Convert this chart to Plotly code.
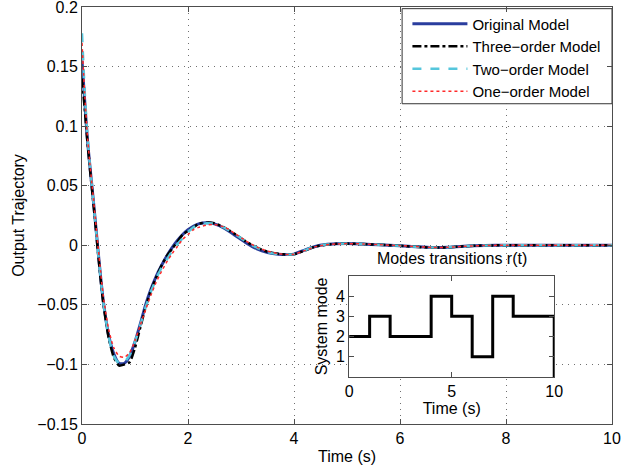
import plotly.graph_objects as go

# ---------------- data ----------------
time_s = [0, 0.05, 0.1, 0.15, 0.2, 0.25, 0.3, 0.35, 0.4, 0.5, 0.6, 0.7, 0.8, 0.9, 1.0,
          1.1, 1.2, 1.3, 1.4, 1.5, 1.6, 1.7, 1.8, 1.9, 2.0, 2.1, 2.2, 2.35, 2.5, 2.7,
          2.9, 3.1, 3.3, 3.5, 3.7, 3.9, 4.0, 4.2, 4.4, 4.6, 4.8, 5.0, 5.3, 5.6, 6.0,
          6.3, 6.6, 6.9, 7.2, 7.6, 8.0, 9.0, 10.0]

original_model = [0.155, 0.122, 0.09, 0.066, 0.044, 0.021, -0.003, -0.026, -0.046, -0.075,
                  -0.091, -0.099, -0.099, -0.093, -0.081, -0.066, -0.05, -0.037, -0.026,
                  -0.017, -0.009, -0.002, 0.004, 0.009, 0.013, 0.016, 0.018, 0.019, 0.018,
                  0.014, 0.008, 0.002, -0.003, -0.006, -0.0075, -0.0078, -0.0074, -0.004,
                  -0.001, 0.0006, 0.0012, 0.0014, 0.001, 0.0004, -0.0004, -0.0012, -0.0019,
                  -0.0017, -0.0008, -0.0002, 0.0, 0.0, 0.0]

three_order = [0.14, 0.115, 0.088, 0.064, 0.042, 0.019, -0.005, -0.028, -0.048, -0.077,
               -0.094, -0.101, -0.1, -0.098, -0.086, -0.069, -0.052, -0.038, -0.027,
               -0.017, -0.009, -0.003, 0.003, 0.009, 0.012, 0.015, 0.018, 0.019, 0.0185,
               0.0145, 0.009, 0.003, -0.002, -0.0055, -0.0072, -0.0078, -0.0076, -0.0045,
               -0.0012, 0.0005, 0.0012, 0.0014, 0.001, 0.0004, -0.0004, -0.0013, -0.002,
               -0.0017, -0.0008, -0.0002, 0.0, 0.0, 0.0]

two_order = [0.178, 0.13, 0.094, 0.067, 0.044, 0.02, -0.004, -0.027, -0.047, -0.076,
             -0.093, -0.099, -0.098, -0.092, -0.081, -0.067, -0.052, -0.039, -0.028,
             -0.019, -0.012, -0.005, 0.001, 0.006, 0.011, 0.015, 0.017, 0.0185, 0.018,
             0.0145, 0.009, 0.003, -0.002, -0.0058, -0.0075, -0.0078, -0.0076, -0.0042,
             -0.001, 0.0006, 0.0012, 0.0014, 0.001, 0.0004, -0.0004, -0.0012, -0.0019,
             -0.0017, -0.0008, -0.0002, 0.0, 0.0, 0.0]

one_order = [0.17, 0.128, 0.093, 0.068, 0.046, 0.023, 0.0, -0.022, -0.042, -0.07,
             -0.086, -0.093, -0.094, -0.09, -0.08, -0.067, -0.054, -0.042, -0.031,
             -0.022, -0.014, -0.007, -0.001, 0.005, 0.009, 0.013, 0.015, 0.017, 0.0175,
             0.015, 0.0095, 0.0035, -0.0015, -0.005, -0.007, -0.0078, -0.0076, -0.0045,
             -0.0013, 0.0004, 0.0011, 0.0014, 0.0011, 0.0005, -0.0003, -0.0011, -0.0018,
             -0.0017, -0.0009, -0.0002, 0.0, 0.0, 0.0]

mode_time = [0, 1, 2, 4, 5, 6, 7, 8, 10, 10]
system_mode = [2, 3, 2, 4, 3, 1, 4, 3, 3, 0]

x_ticks = [0, 2, 4, 6, 8, 10]
y_ticks = [-0.15, -0.1, -0.05, 0, 0.05, 0.1, 0.15, 0.2]
y_tick_labels = ["\u22120.15", "\u22120.1", "\u22120.05", "0", "0.05", "0.1", "0.15", "0.2"]
inset_x_ticks = [0, 5, 10]
inset_y_ticks = [1, 2, 3, 4]

# ---------------- layout constants ----------------
X_RANGE = [0, 10]
Y_RANGE = [-0.15, 0.2]
INSET_X_DOM = [0.504, 0.891]
INSET_Y_DOM = [0.113, 0.355]
LEG_X_DOM = [0.604, 1.0]
LEG_Y_DOM = [0.768, 0.996]


def dom_to_x(f):
    return X_RANGE[0] + f * (X_RANGE[1] - X_RANGE[0])


def dom_to_y(f):
    return Y_RANGE[0] + f * (Y_RANGE[1] - Y_RANGE[0])


# ---------------- figure ----------------
FONT = "Liberation Sans, Arial, Helvetica, sans-serif"
fig = go.Figure()

fig.add_trace(go.Scatter(x=time_s, y=original_model, name="Original Model", mode="lines",
                         line=dict(color="#2a3d9e", width=3, shape="spline", smoothing=0.6)))
fig.add_trace(go.Scatter(x=time_s, y=three_order, name="Three\u2212order Model", mode="lines",
                         line=dict(color="black", width=2.5, dash="dashdot", shape="spline", smoothing=0.6)))
fig.add_trace(go.Scatter(x=time_s, y=two_order, name="Two\u2212order Model", mode="lines",
                         line=dict(color="#55c6dc", width=2.5, dash="dash", shape="spline", smoothing=0.6)))
fig.add_trace(go.Scatter(x=time_s, y=one_order, name="One\u2212order Model", mode="lines",
                         line=dict(color="#ff2a2a", width=1.5, dash="dot", shape="spline", smoothing=0.6)))

fig.add_trace(go.Scatter(x=mode_time, y=system_mode, mode="lines", showlegend=False,
                         xaxis="x2", yaxis="y2",
                         line=dict(color="black", width=3, shape="hv")))

axis_common = dict(showline=True, linecolor="#4d4d4d", linewidth=1, mirror="allticks",
                   ticks="inside", ticklen=5, tickcolor="#4d4d4d", zeroline=False,
                   automargin=False, ticklabeloverflow="allow",
                   tickfont=dict(family=FONT, size=16, color="black"))

grid = dict(showgrid=True, gridcolor="#707070", griddash="1px,5px", gridwidth=1)

fig.update_layout(
    width=640, height=472,
    margin=dict(l=82, r=28, t=7, b=48, autoexpand=False),
    paper_bgcolor="white", plot_bgcolor="white",
    font=dict(family=FONT, size=16, color="black"),
    showlegend=True,
    legend=dict(x=0.614, xanchor="left", y=0.999, yanchor="top",
                bgcolor="rgba(0,0,0,0)", borderwidth=0,
                font=dict(family=FONT, size=15), itemwidth=55,
                tracegroupgap=0),
    xaxis=dict(domain=[0, 1], range=X_RANGE, tickvals=x_ticks,
               title=dict(text="Time (s)", standoff=4, font=dict(size=16)),
               **grid, **axis_common),
    yaxis=dict(domain=[0, 1], range=Y_RANGE, tickvals=y_ticks, ticktext=y_tick_labels,
               title=dict(text="Output Trajectory", standoff=8, font=dict(size=16)),
               **grid, **axis_common),
    xaxis2=dict(domain=INSET_X_DOM, anchor="y2", range=[0, 10], tickvals=inset_x_ticks,
                showgrid=False,
                title=dict(text="Time (s)", standoff=2, font=dict(size=16)),
                **axis_common),
    yaxis2=dict(domain=INSET_Y_DOM, anchor="x2", range=[0, 5], tickvals=inset_y_ticks,
                showgrid=False,
                title=dict(text="System mode", standoff=4, font=dict(size=16)),
                **axis_common),
    shapes=[
        # white background of the inset axes (hides the main grid behind it)
        dict(type="rect", xref="x", yref="y",
             x0=dom_to_x(INSET_X_DOM[0]), x1=dom_to_x(INSET_X_DOM[1]),
             y0=dom_to_y(INSET_Y_DOM[0]), y1=dom_to_y(INSET_Y_DOM[1]),
             fillcolor="white", line=dict(width=0), layer="between"),
        # legend box
        dict(type="rect", xref="x", yref="y",
             x0=dom_to_x(LEG_X_DOM[0]), x1=dom_to_x(LEG_X_DOM[1]),
             y0=dom_to_y(LEG_Y_DOM[0]), y1=dom_to_y(LEG_Y_DOM[1]),
             fillcolor="white", line=dict(color="#333333", width=1), layer="between"),
    ],
    annotations=[dict(text="Modes transitions r(t)", xref="paper", yref="paper",
                      x=(INSET_X_DOM[0] + INSET_X_DOM[1]) / 2, y=INSET_Y_DOM[1],
                      xanchor="center", yanchor="bottom", yshift=7,
                      showarrow=False, font=dict(family=FONT, size=16, color="black"))],
)

fig.write_html("out.html", config={"displayModeBar": False},
               post_script="document.body.style.margin='0';")
